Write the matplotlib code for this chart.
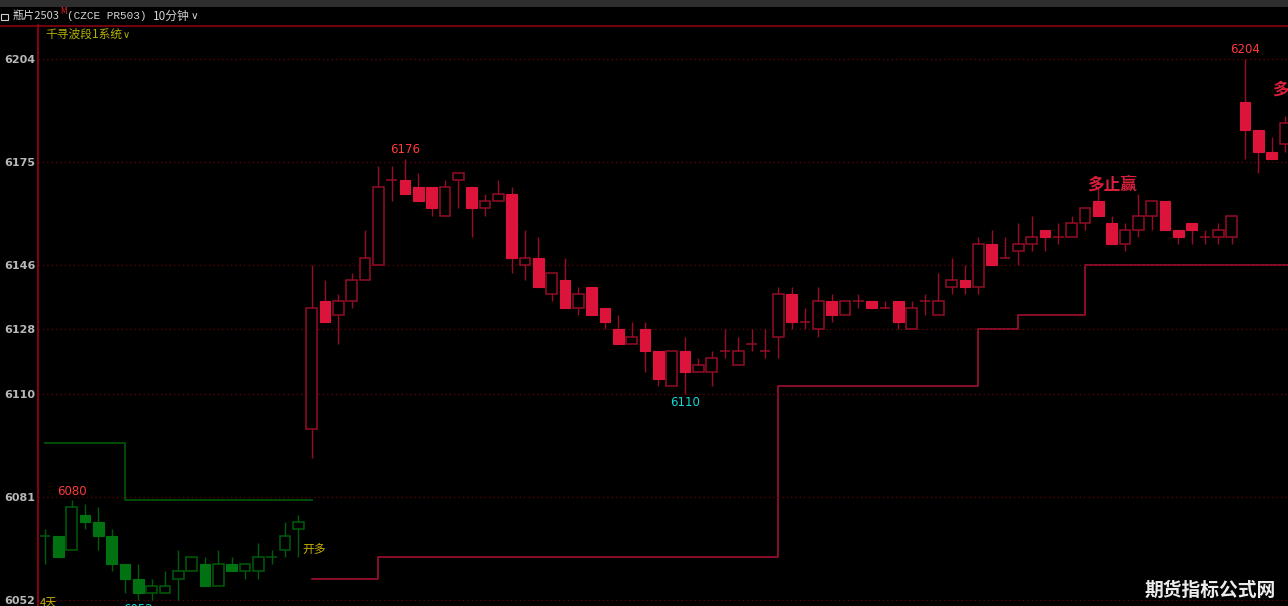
import matplotlib
matplotlib.use("Agg")
import matplotlib.pyplot as plt
from matplotlib.patches import Rectangle
from matplotlib.lines import Line2D

# 10分钟K线 (瓶片2503), 从左往右
opens = [6070, 6070, 6066, 6076, 6074, 6070, 6062, 6058, 6054, 6054,
         6058, 6060, 6062, 6056, 6062, 6060, 6060, 6064, 6066, 6072,
         6100, 6136, 6132, 6136, 6142, 6146, 6170, 6170, 6168, 6168,
         6160, 6170, 6168, 6162, 6164, 6166, 6146, 6148, 6138, 6142,
         6134, 6140, 6134, 6128, 6124, 6128, 6122, 6112, 6122, 6116,
         6116, 6122, 6118, 6124, 6122, 6126, 6138, 6130, 6128, 6136,
         6132, 6136, 6136, 6134, 6136, 6128, 6136, 6132, 6140, 6142,
         6140, 6152, 6148, 6150, 6152, 6156, 6154, 6154, 6158, 6164,
         6158, 6152, 6156, 6160, 6164, 6156, 6158, 6154, 6154, 6154,
         6192, 6184, 6178, 6180]
highs = [6072, 6070, 6080, 6079, 6078, 6072, 6062, 6062, 6058, 6060,
         6066, 6064, 6064, 6066, 6064, 6062, 6068, 6066, 6074, 6076,
         6146, 6142, 6138, 6144, 6156, 6174, 6174, 6176, 6172, 6168,
         6170, 6172, 6168, 6166, 6170, 6168, 6156, 6154, 6144, 6148,
         6140, 6140, 6134, 6132, 6130, 6130, 6122, 6122, 6126, 6120,
         6122, 6128, 6126, 6128, 6128, 6140, 6140, 6134, 6140, 6138,
         6136, 6138, 6136, 6136, 6136, 6136, 6138, 6144, 6148, 6146,
         6154, 6156, 6154, 6158, 6160, 6156, 6158, 6160, 6162, 6168,
         6160, 6158, 6166, 6164, 6164, 6156, 6158, 6156, 6158, 6160,
         6204, 6184, 6182, 6188]
lows = [6062, 6064, 6066, 6072, 6066, 6060, 6054, 6052, 6052, 6054,
        6052, 6060, 6056, 6056, 6060, 6058, 6058, 6062, 6064, 6064,
        6092, 6130, 6124, 6134, 6142, 6146, 6164, 6166, 6164, 6160,
        6160, 6162, 6154, 6160, 6164, 6144, 6142, 6140, 6136, 6134,
        6132, 6132, 6128, 6124, 6124, 6116, 6112, 6112, 6110, 6116,
        6112, 6120, 6118, 6122, 6120, 6120, 6128, 6128, 6126, 6130,
        6132, 6134, 6134, 6134, 6128, 6128, 6132, 6132, 6138, 6138,
        6138, 6146, 6148, 6146, 6150, 6150, 6152, 6154, 6156, 6160,
        6152, 6150, 6154, 6156, 6156, 6152, 6152, 6152, 6152, 6152,
        6176, 6172, 6176, 6178]
closes = [6070, 6064, 6078, 6074, 6070, 6062, 6058, 6054, 6056, 6056,
          6060, 6064, 6056, 6062, 6060, 6062, 6064, 6064, 6070, 6074,
          6134, 6130, 6136, 6142, 6148, 6168, 6170, 6166, 6164, 6162,
          6168, 6172, 6162, 6164, 6166, 6148, 6148, 6140, 6144, 6134,
          6138, 6132, 6130, 6124, 6126, 6122, 6114, 6122, 6116, 6118,
          6120, 6122, 6122, 6124, 6122, 6138, 6130, 6130, 6136, 6132,
          6136, 6136, 6134, 6134, 6130, 6134, 6136, 6136, 6142, 6140,
          6152, 6146, 6148, 6152, 6154, 6154, 6154, 6158, 6162, 6160,
          6152, 6156, 6160, 6164, 6156, 6154, 6156, 6154, 6156, 6160,
          6184, 6178, 6176, 6186]
green_count = 20          # 前20根为空头段(绿色)

# 止损线 (起始K线序号, 价位)
green_stop_idx = [0, 6]
green_stop_val = [6096, 6080]
green_stop_end = 20
red_stop_idx = [20, 25, 55, 70, 73, 78]
red_stop_val = [6058, 6064, 6112, 6128, 6132, 6146]

price_ticks = [6052, 6081, 6110, 6128, 6146, 6175, 6204]

# 高低点标注
hl_marks = [(2, "high", "6080"), (7, "low", "6052"), (27, "high", "6176"),
            (48, "low", "6110"), (90, "high", "6204")]

CJK = ['Noto Sans CJK SC', 'DejaVu Sans']
W, H = 1288, 606

def px(x, y):
    return x / W, 1 - y / H

fig = plt.figure(figsize=(W / 100, H / 100), dpi=100, facecolor='black')

# 顶部灰条
fig.patches.append(Rectangle((0, 1 - 7 / H), 1, 7 / H, transform=fig.transFigure,
                             facecolor='#2e2e2e', edgecolor='none'))
fig.patches.append(Rectangle(px(1, 20), 7 / W, 6 / H, transform=fig.transFigure,
                             facecolor='none', edgecolor='#d0d0d0', lw=0.8))
fig.lines.append(Line2D([0, 1], [1 - 25.5 / H] * 2, transform=fig.transFigure,
                        color='#8a0010', lw=1.2))

ax = fig.add_axes([38 / W, 0, 1250 / W, 581 / H])
ax.set_facecolor('black')
ax.set_xlim(-0.525, 93.225)
ax.set_ylim(6050.3, 6213.55)
for s in ['top', 'right', 'bottom']:
    ax.spines[s].set_visible(False)
ax.spines['left'].set_color('#a00018')
ax.spines['left'].set_linewidth(1.2)
ax.set_xticks([])
ax.set_yticks(price_ticks)
ax.set_yticklabels([str(t) for t in price_ticks])
ax.tick_params(axis='y', length=0, pad=2, labelsize=8, labelcolor='#b8b8b8')
for lab in ax.get_yticklabels():
    lab.set_fontweight('bold')

ax.hlines(price_ticks, -0.525, 93.225, colors='#6a0008', linestyles=(0, (1, 2.5)), lw=0.9)

bw = 0.8
for i in range(len(opens)):
    o, h, l, c = opens[i], highs[i], lows[i], closes[i]
    if i < green_count:
        fill, edge = '#007212', '#005c0a'
    else:
        fill, edge = '#dc143c', '#960c26'
    top, bot = max(o, c), min(o, c)
    if c > o:
        ax.add_patch(Rectangle((i - bw / 2, bot), bw, top - bot, facecolor='black',
                               edgecolor=edge, lw=1.1, zorder=3))
        ax.vlines(i, top, h, colors=edge, lw=1.0, zorder=3)
        ax.vlines(i, l, bot, colors=edge, lw=1.0, zorder=3)
    elif c < o:
        ax.vlines(i, l, h, colors=edge, lw=1.0, zorder=2)
        ax.add_patch(Rectangle((i - bw / 2, bot), bw, top - bot, facecolor=fill,
                               edgecolor=fill, lw=0.8, zorder=3))
    else:
        ax.vlines(i, l, h, colors=edge, lw=1.0, zorder=3)
        ax.hlines(o, i - bw / 2, i + bw / 2, colors=edge, lw=1.1, zorder=3)

# 止损阶梯线
gx = green_stop_idx + [green_stop_end]
gy = green_stop_val + [green_stop_val[-1]]
ax.step(gx, gy, where='post', color='#005a08', lw=1.2, zorder=1)
rx = red_stop_idx + [93.3]
ry = red_stop_val + [red_stop_val[-1]]
ax.step(rx, ry, where='post', color='#a01030', lw=1.2, zorder=1)

for i, kind, txt in hl_marks:
    if kind == "high":
        ax.annotate(txt, xy=(i, highs[i]), xytext=(0, 2), textcoords='offset points',
                    ha='center', va='bottom', color='#ff3a3a', fontsize=8.5, zorder=5,
                    annotation_clip=False)
    else:
        ax.annotate(txt, xy=(i, lows[i]), xytext=(0, -2), textcoords='offset points',
                    ha='center', va='top', color='#12d8d8', fontsize=8.5, zorder=5,
                    annotation_clip=False)

# 信号文字
ax.annotate("开多", xy=(19, lows[19]), xytext=(3, 5), textcoords='offset points',
            ha='left', va='center', color='#c8b000', fontsize=8.5, family=CJK)
ax.annotate("多止赢", xy=(79, highs[79]), xytext=(10, 2), textcoords='offset points',
            ha='center', va='center', color='#d8203c', fontsize=12, fontweight='bold',
            family=CJK)
fig.text(*px(1272, 90), "多", ha='left', va='center', color='#d8203c', fontsize=12,
         fontweight='bold', family=CJK)

# 顶部标题
fig.text(*px(13, 16), "瓶片2503", ha='left', va='center', color='#d4d4d4',
         fontsize=8, family=CJK)
fig.text(*px(60, 12), "M", ha='left', va='center', color='#e02020', fontsize=5.5)
fig.text(*px(67, 16), "(CZCE PR503)", ha='left', va='center', color='#d4d4d4',
         fontsize=8, family=['Liberation Mono', 'DejaVu Sans Mono'])
fig.text(*px(153, 16), "10分钟", ha='left', va='center', color='#d4d4d4',
         fontsize=8.5, family=CJK)
fig.text(*px(191, 16), "∨", ha='left', va='center', color='#d4d4d4', fontsize=7.5)
fig.text(*px(45, 34), "千寻波段1系统", ha='left', va='center', color='#b4b000',
         fontsize=8.5, family=CJK)
fig.text(*px(123, 35), "∨", ha='left', va='center', color='#b4b000', fontsize=7)
fig.text(*px(40, 598), "4天", ha='left', va='top', color='#c8b000', fontsize=8,
         family=CJK)

# 水印
fig.text(*px(1210, 590), "期货指标公式网", ha='center', va='center', color='#ececec',
         fontsize=13.5, fontweight='bold', family=CJK)

fig.savefig("out.png", dpi=100, facecolor='black')
